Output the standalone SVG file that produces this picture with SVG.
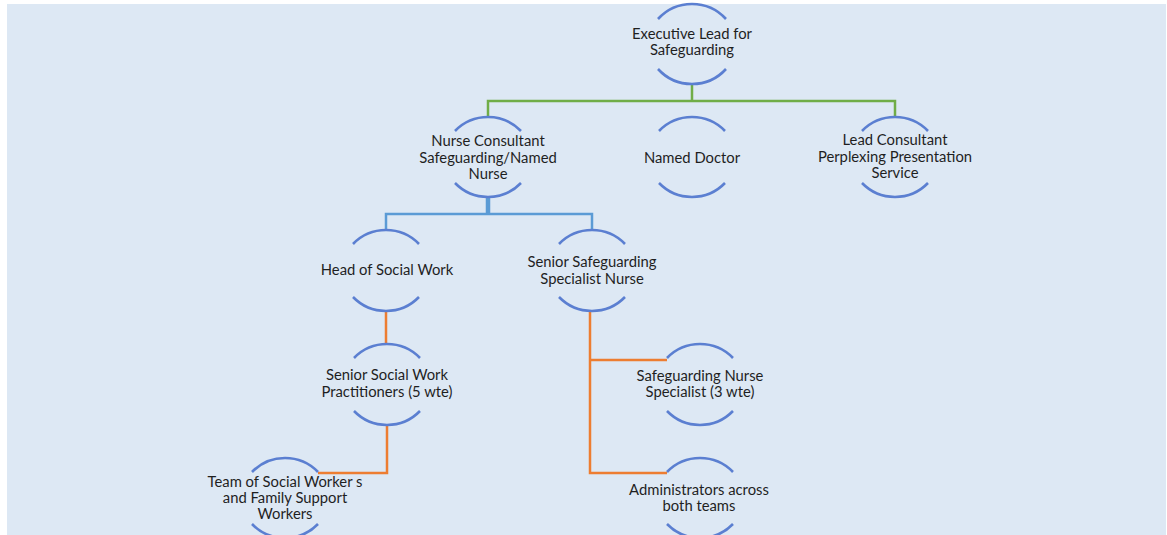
<svg xmlns="http://www.w3.org/2000/svg" width="1167" height="535" viewBox="0 0 1167 535">
  <style>
    .arc { fill: none; stroke: #5b7fd1; stroke-width: 2.6; stroke-linecap: butt; }
    .lbl { font-family: "Lato", "Liberation Sans", sans-serif; font-size: 14.8px; fill: #1f1f1f; text-anchor: middle; }
    .green { fill: none; stroke: #70ad47; stroke-width: 2.5; }
    .blue { fill: none; stroke: #5b9bd5; stroke-width: 2.5; }
    .blue-thick { fill: none; stroke: #5b9bd5; stroke-width: 4.5; }
    .orange { fill: none; stroke: #ed7d31; stroke-width: 2.5; }
  </style>

  <rect x="0" y="0" width="1167" height="535" fill="#ffffff"/>
  <rect x="7" y="4" width="1159" height="531" fill="#dde8f4"/>

  <!-- connectors -->
  <g id="connectors">
    <path class="green" d="M692,83 V101 M488,117 V101 H895 V117"/>
    <path class="blue-thick" d="M488,197 V214"/>
    <path class="blue" d="M386,230 V214 H592 V230"/>
    <path class="orange" d="M386,311 V344"/>
    <path class="orange" d="M387,426 V473 H318"/>
    <path class="orange" d="M590,311 V473 H667 M590,360 H667"/>
  </g>

  <!-- nodes: a top arc and a bottom arc framing each label -->
  <g id="executive-lead">
    <path class="arc" d="M658,19 A46,46 0 0 1 726,19"/>
    <path class="arc" d="M658,69 A46,46 0 0 0 726,69"/>
    <text class="lbl" x="692" y="39">Executive Lead for</text>
    <text class="lbl" x="692" y="55">Safeguarding</text>
  </g>

  <g id="nurse-consultant">
    <path class="arc" d="M455,131 A46,46 0 0 1 521,131"/>
    <path class="arc" d="M455,183 A46,46 0 0 0 521,183"/>
    <text class="lbl" x="488" y="146">Nurse Consultant</text>
    <text class="lbl" x="488" y="163">Safeguarding/Named</text>
    <text class="lbl" x="488" y="179">Nurse</text>
  </g>

  <g id="named-doctor">
    <path class="arc" d="M659,131 A46,46 0 0 1 725,131"/>
    <path class="arc" d="M659,183 A46,46 0 0 0 725,183"/>
    <text class="lbl" x="692" y="163">Named Doctor</text>
  </g>

  <g id="lead-consultant">
    <path class="arc" d="M862,131 A46,46 0 0 1 928,131"/>
    <path class="arc" d="M862,183 A46,46 0 0 0 928,183"/>
    <text class="lbl" x="895" y="145">Lead Consultant</text>
    <text class="lbl" x="895" y="162">Perplexing Presentation</text>
    <text class="lbl" x="895" y="178">Service</text>
  </g>

  <g id="head-social-work">
    <path class="arc" d="M353,244 A46,46 0 0 1 419,244"/>
    <path class="arc" d="M353,297 A46,46 0 0 0 419,297"/>
    <text class="lbl" x="387" y="275">Head of Social Work</text>
  </g>

  <g id="senior-safeguarding">
    <path class="arc" d="M559,244 A46,46 0 0 1 625,244"/>
    <path class="arc" d="M559,297 A46,46 0 0 0 625,297"/>
    <text class="lbl" x="592" y="267">Senior Safeguarding</text>
    <text class="lbl" x="592" y="284">Specialist Nurse</text>
  </g>

  <g id="senior-social-work">
    <path class="arc" d="M354,358 A46,46 0 0 1 420,358"/>
    <path class="arc" d="M354,411 A46,46 0 0 0 420,411"/>
    <text class="lbl" x="387" y="380">Senior Social Work</text>
    <text class="lbl" x="387" y="397">Practitioners (5 wte)</text>
  </g>

  <g id="safeguarding-nurse-specialist">
    <path class="arc" d="M667,358 A46,46 0 0 1 733,358"/>
    <path class="arc" d="M667,411 A46,46 0 0 0 733,411"/>
    <text class="lbl" x="700" y="381">Safeguarding Nurse</text>
    <text class="lbl" x="700" y="397">Specialist (3 wte)</text>
  </g>

  <g id="team-social-workers">
    <path class="arc" d="M252,472 A46,46 0 0 1 318,472"/>
    <path class="arc" d="M252,524 A46,46 0 0 0 318,524"/>
    <text class="lbl" x="285" y="487">Team of Social Worker s</text>
    <text class="lbl" x="285" y="503">and Family Support</text>
    <text class="lbl" x="285" y="519">Workers</text>
  </g>

  <g id="administrators">
    <path class="arc" d="M667,472 A46,46 0 0 1 733,472"/>
    <path class="arc" d="M667,524 A46,46 0 0 0 733,524"/>
    <text class="lbl" x="699" y="495">Administrators across</text>
    <text class="lbl" x="699" y="511">both teams</text>
  </g>
</svg>
